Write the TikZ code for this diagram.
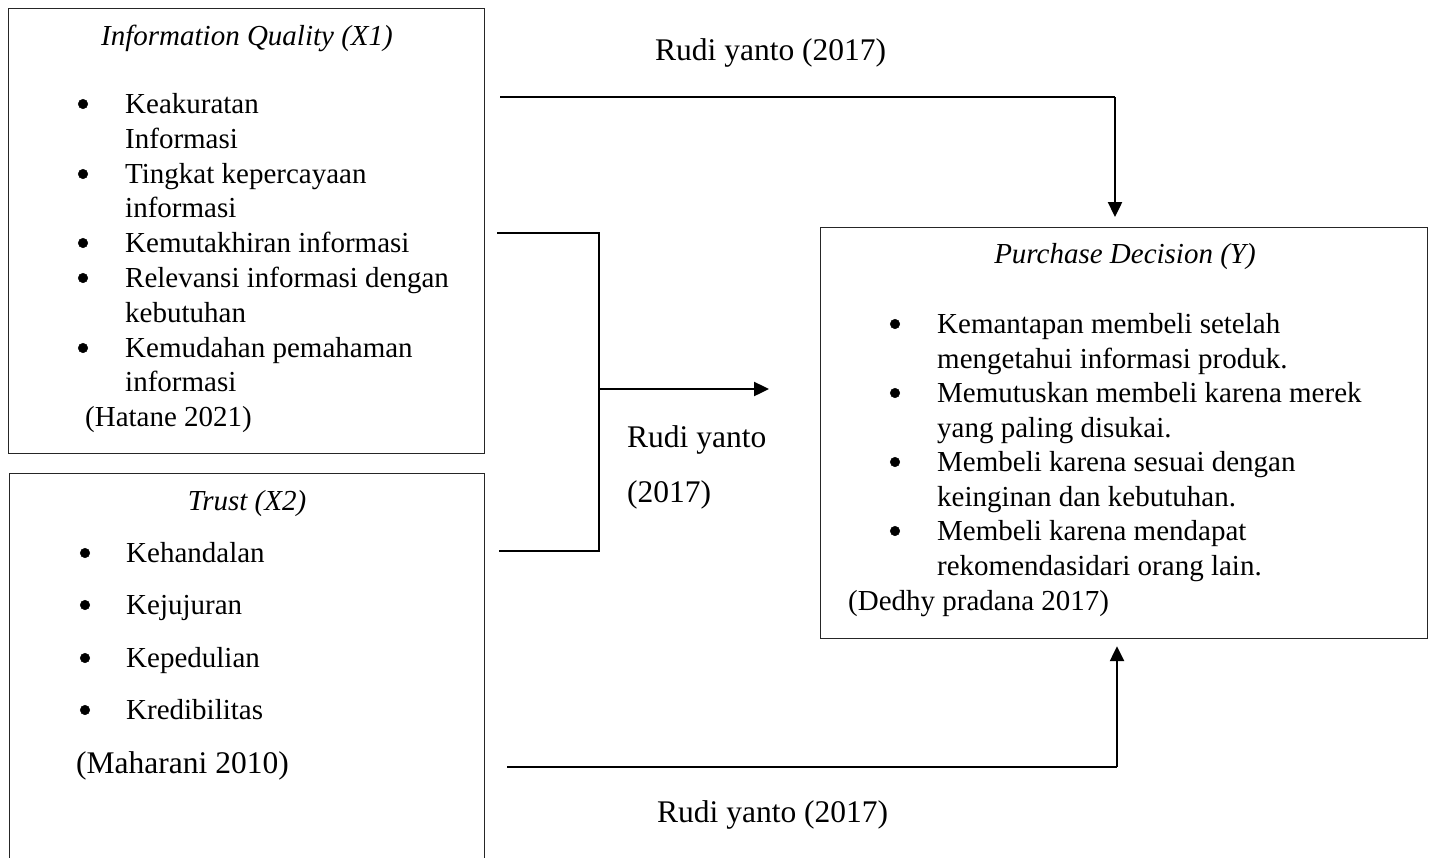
\documentclass[tikz,border=0pt]{standalone}
\usepackage{fontspec}
\setmainfont{Liberation Serif}
\usetikzlibrary{arrows.meta}
\tikzset{
  box/.style={draw=black!85, line width=1.2pt, anchor=north west, inner sep=0pt, fill=none},
  body/.style={anchor=base west, inner sep=0pt, font=\fontsize{29}{34.7}\selectfont},
  bul/.style={circle, fill=black, draw=black, line width=0.5pt, inner sep=0pt, minimum size=9.5pt},
  ttl/.style={anchor=base, inner sep=0pt, font=\fontsize{29}{34.7}\selectfont\itshape},
  lbl/.style={anchor=base west, inner sep=0pt, font=\fontsize{31.5}{37}\selectfont},
  plainline/.style={line width=1.3pt, black},
  arrowline/.style={line width=2.4pt, black, -{Triangle[length=15pt,width=14pt]}},
}
\begin{document}
\begin{tikzpicture}[x=1pt,y=-1pt]
\clip (0,0) rectangle (1432,857);
\fill[white] (0,0) rectangle (1432,857);

% ---- boxes
\node[box, minimum width=476pt, minimum height=445pt] (x1) at (8,8) {};
\node[box, minimum width=475pt, minimum height=430pt] (x2) at (9,473) {};
\node[box, minimum width=607pt, minimum height=411pt] (y) at (820,227) {};

% ---- Information Quality box
\node[ttl] (x1t) at (247,45) {Information Quality (X1)};
\node[bul] (x1b1) at (83,104) {};
\node[body] (x1l1) at (125,113) {Keakuratan};
\node[body] (x1l2) at (125,148) {Informasi};
\node[bul] (x1b2) at (83,174) {};
\node[body] (x1l3) at (125,183) {Tingkat kepercayaan};
\node[body] (x1l4) at (125,217) {informasi};
\node[bul] (x1b3) at (83,243) {};
\node[body] (x1l5) at (125,252) {Kemutakhiran informasi};
\node[bul] (x1b4) at (83,278) {};
\node[body] (x1l6) at (125,287) {Relevansi informasi dengan};
\node[body] (x1l7) at (125,322) {kebutuhan};
\node[bul] (x1b5) at (83,348) {};
\node[body] (x1l8) at (125,357) {Kemudahan pemahaman};
\node[body] (x1l9) at (125,391) {informasi};
\node[body] (x1src) at (85,426) {(Hatane 2021)};

% ---- Trust box
\node[ttl] (x2t) at (247,510) {Trust (X2)};
\node[bul] (x2b1) at (85,553) {};
\node[body] (x2l1) at (126,562) {Kehandalan};
\node[bul] (x2b2) at (85,605) {};
\node[body] (x2l2) at (126,614) {Kejujuran};
\node[bul] (x2b3) at (85,658) {};
\node[body] (x2l3) at (126,667) {Kepedulian};
\node[bul] (x2b4) at (85,710) {};
\node[body] (x2l4) at (126,719) {Kredibilitas};
\node[lbl] (x2src) at (76,773) {(Maharani 2010)};

% ---- Purchase Decision box
\node[ttl] (yt) at (1125,263) {Purchase Decision (Y)};
\node[bul] (yb1) at (895,324) {};
\node[body] (yl1) at (937,333) {Kemantapan membeli setelah};
\node[body] (yl2) at (937,368) {mengetahui informasi produk.};
\node[bul] (yb2) at (895,393) {};
\node[body] (yl3) at (937,402) {Memutuskan membeli karena merek};
\node[body] (yl4) at (937,437) {yang paling disukai.};
\node[bul] (yb3) at (895,462) {};
\node[body] (yl5) at (937,471) {Membeli karena sesuai dengan};
\node[body] (yl6) at (937,506) {keinginan dan kebutuhan.};
\node[bul] (yb4) at (895,531) {};
\node[body] (yl7) at (937,540) {Membeli karena mendapat};
\node[body] (yl8) at (937,575) {rekomendasidari orang lain.};
\node[body] (ysrc) at (848,610) {(Dedhy pradana 2017)};

% ---- connector coordinates
\coordinate (t1) at (500,97);
\coordinate (t2) at (1115,97);
\coordinate (b1) at (497,233);
\coordinate (b2) at (599,233);
\coordinate (b3) at (599,551);
\coordinate (b4) at (499,551);
\coordinate (m1) at (599,389);
\coordinate (m2) at (769,389);
\coordinate (c1) at (507,767);
\coordinate (c2) at (1117,767);

% ---- connectors
\draw[plainline] (t1) -- (t2);
\draw[arrowline, shorten >=10pt] (t2) -- (t2 |- y.north);
\draw[plainline] (b1) -- (b2) -- (b3) -- (b4);
\draw[arrowline] (m1) -- (m2);
\draw[plainline] (c1) -- (c2);
\draw[arrowline, shorten >=7pt] (c2) -- (c2 |- y.south);

% ---- labels
\node[lbl] (r1) at (655,60) {Rudi yanto (2017)};
\node[lbl] (r2a) at (627,447) {Rudi yanto};
\node[lbl] (r2b) at (627,502) {(2017)};
\node[lbl] (r3) at (657,822) {Rudi yanto (2017)};
\end{tikzpicture}
\end{document}
